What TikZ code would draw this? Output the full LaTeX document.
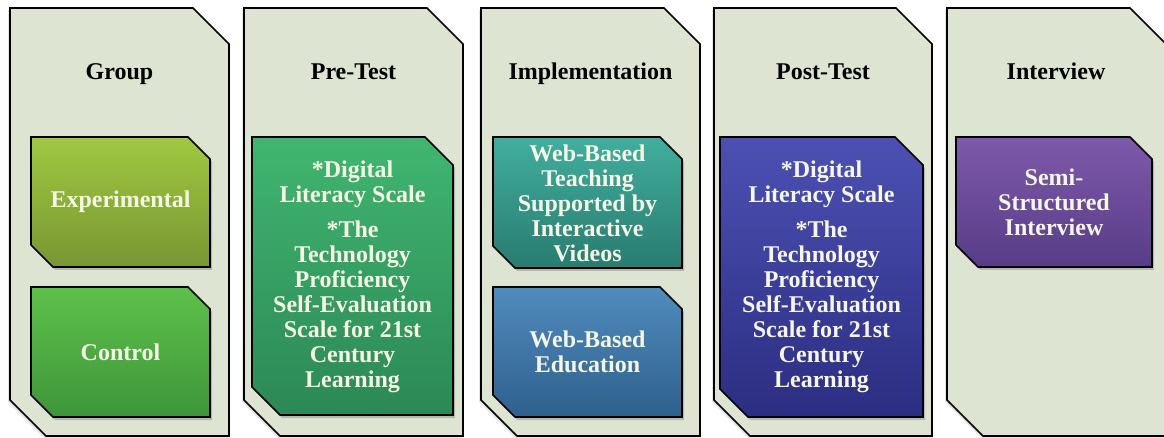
\documentclass[tikz,border=0pt]{standalone}
\usepackage{fontspec}
\setmainfont{Liberation Serif}
\usetikzlibrary{shadows}
\definecolor{panelfill}{RGB}{221,229,210}
\definecolor{txt}{RGB}{246,246,230}
\definecolor{expT}{RGB}{160,200,64}\definecolor{expB}{RGB}{120,150,50}
\definecolor{ctlT}{RGB}{94,192,74}\definecolor{ctlB}{RGB}{62,150,58}
\definecolor{preT}{RGB}{64,182,112}\definecolor{preB}{RGB}{44,136,86}
\definecolor{wbtT}{RGB}{66,174,158}\definecolor{wbtB}{RGB}{40,124,112}
\definecolor{wbeT}{RGB}{80,140,190}\definecolor{wbeB}{RGB}{46,96,140}
\definecolor{posT}{RGB}{76,80,178}\definecolor{posB}{RGB}{44,46,130}
\definecolor{semT}{RGB}{126,90,170}\definecolor{semB}{RGB}{88,60,136}
\tikzset{
  panel/.style={draw=black, line width=1.6pt, fill=panelfill,
    drop shadow={shadow xshift=-2pt, shadow yshift=-2pt, opacity=0.2}},
  innerbox/.style={draw=black, line width=1.6pt,
    drop shadow={shadow xshift=2pt, shadow yshift=-3pt, opacity=0.45}},
  titletext/.style={font=\fontsize{24}{25}\selectfont\bfseries, text=black, anchor=base},
  boxtext/.style={font=\fontsize{24}{25}\selectfont\bfseries, text=txt, align=center},
}
\newcommand{\snipshape}[6]{\path[#6] (#1,#2) -- ({#3-#5},#2) -- (#3,{#2+#5}) -- (#3,#4) -- ({#1+#5},#4) -- (#1,{#4-#5}) -- cycle;}
\begin{document}
\begin{tikzpicture}[x=1pt,y=-1pt]
\useasboundingbox (0,0) rectangle (1164,438);
\clip (0,0) rectangle (1164,438);
% panels
\snipshape{10}{8}{229}{436}{36}{panel}
\snipshape{244}{8}{463}{436}{36}{panel}
\snipshape{481}{8}{700}{436}{36}{panel}
\snipshape{714}{8}{932}{436}{36}{panel}
\snipshape{947}{8}{1166}{436}{36}{panel}
% titles
\node[titletext] (tgroup) at (119.5,80) {Group};
\node[titletext] (tpre) at (353.5,80) {Pre-Test};
\node[titletext] (timpl) at (590.5,80) {Implementation};
\node[titletext] (tpost) at (823,80) {Post-Test};
\node[titletext] (tint) at (1056,80) {Interview};
% inner boxes
\snipshape{31}{137}{210}{267}{22}{innerbox, top color=expT, bottom color=expB}
\snipshape{31}{287}{210}{417}{22}{innerbox, top color=ctlT, bottom color=ctlB}
\snipshape{252}{137}{453}{415}{28}{innerbox, top color=preT, bottom color=preB}
\snipshape{493}{137}{682}{268}{22}{innerbox, top color=wbtT, bottom color=wbtB}
\snipshape{493}{287}{682}{417}{22}{innerbox, top color=wbeT, bottom color=wbeB}
\snipshape{720}{137}{923}{417}{28}{innerbox, top color=posT, bottom color=posB}
\snipshape{956}{137}{1152}{267}{22}{innerbox, top color=semT, bottom color=semB}
% texts
\node[boxtext] (exp) at (120.5,202) {Experimental};
\node[boxtext] (ctl) at (120.5,352) {Control};
\node[boxtext] (pre) at (352.5,277) {*Digital\\Literacy Scale\\[10pt]*The\\Technology\\Proficiency\\Self-Evaluation\\Scale for 21st\\Century\\Learning};
\node[boxtext] (wbt) at (587.5,203) {Web-Based\\Teaching\\Supported by\\Interactive\\Videos};
\node[boxtext] (wbe) at (587.5,352) {Web-Based\\Education};
\node[boxtext] (post) at (821.5,277) {*Digital\\Literacy Scale\\[10pt]*The\\Technology\\Proficiency\\Self-Evaluation\\Scale for 21st\\Century\\Learning};
\node[boxtext] (semi) at (1054,202) {Semi-\\Structured\\Interview};
\end{tikzpicture}
\end{document}
